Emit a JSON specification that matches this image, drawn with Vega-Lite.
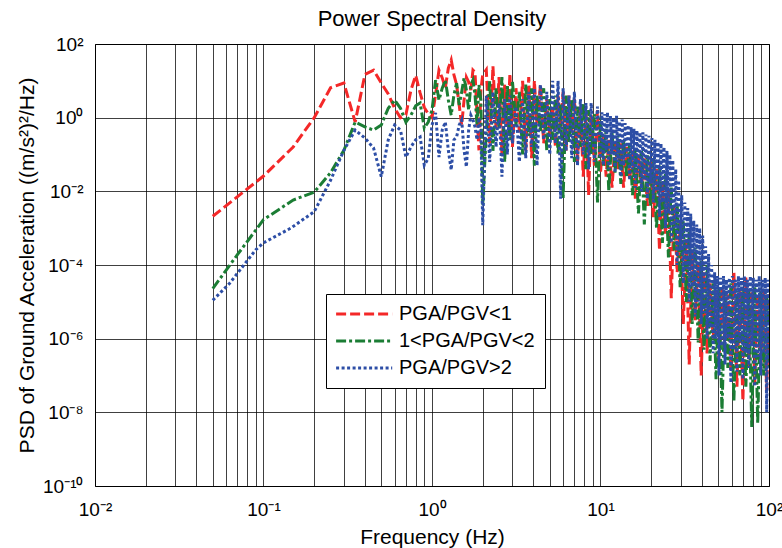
{
"$schema": "https://vega.github.io/schema/vega-lite/v6.json",
"width": 674, "height": 442,
"autosize": {"type": "none"},
"padding": {"left": 95, "top": 44, "right": 13, "bottom": 62},
"background": "white",
"config": {"font": "Liberation Sans", "view": {"stroke": "#000", "strokeWidth": 1}},
"title": {"text": "Power Spectral Density", "frame": "group", "anchor": "middle", "baseline": "alphabetic", "offset": 14, "dy": 27, "fontSize": 22, "fontWeight": "normal", "color": "#000"},
"data": {"values": [
{"s":"PGA/PGV<1","f":0.05,"p":0.0021},{"s":"PGA/PGV<1","f":0.1,"p":0.026},{"s":"PGA/PGV<1","f":0.15,"p":0.16},{"s":"PGA/PGV<1","f":0.2,"p":1.0},{"s":"PGA/PGV<1","f":0.25,"p":6.5},{"s":"PGA/PGV<1","f":0.3,"p":8.7},{"s":"PGA/PGV<1","f":0.35,"p":0.76},{"s":"PGA/PGV<1","f":0.4,"p":15},{"s":"PGA/PGV<1","f":0.45,"p":19.5},{"s":"PGA/PGV<1","f":0.5,"p":8.7},{"s":"PGA/PGV<1","f":0.55,"p":4.4},{"s":"PGA/PGV<1","f":0.6,"p":1.8},{"s":"PGA/PGV<1","f":0.65,"p":1.0},{"s":"PGA/PGV<1","f":0.7,"p":1.2},{"s":"PGA/PGV<1","f":0.75,"p":5.6},{"s":"PGA/PGV<1","f":0.8,"p":14},{"s":"PGA/PGV<1","f":0.85,"p":4.7},{"s":"PGA/PGV<1","f":0.9,"p":1.9},{"s":"PGA/PGV<1","f":0.95,"p":1.26},{"s":"PGA/PGV<1","f":1.0,"p":1.0},
{"s":"PGA/PGV<1","f":1.05,"p":4.2},{"s":"PGA/PGV<1","f":1.1,"p":19.5},{"s":"PGA/PGV<1","f":1.15,"p":12},{"s":"PGA/PGV<1","f":1.2,"p":6.5},{"s":"PGA/PGV<1","f":1.25,"p":22},{"s":"PGA/PGV<1","f":1.3,"p":37},{"s":"PGA/PGV<1","f":1.35,"p":14.5},{"s":"PGA/PGV<1","f":1.4,"p":7.8},{"s":"PGA/PGV<1","f":1.45,"p":2.2},{"s":"PGA/PGV<1","f":1.5,"p":0.63},{"s":"PGA/PGV<1","f":1.55,"p":3},{"s":"PGA/PGV<1","f":1.6,"p":12.5},{"s":"PGA/PGV<1","f":1.65,"p":9.3},{"s":"PGA/PGV<1","f":1.7,"p":5.6},{"s":"PGA/PGV<1","f":1.75,"p":19.5},{"s":"PGA/PGV<1","f":1.8,"p":17},{"s":"PGA/PGV<1","f":1.85,"p":1.2},{"s":"PGA/PGV<1","f":1.9,"p":0.13},{"s":"PGA/PGV<1","f":1.95,"p":5.6},{"s":"PGA/PGV<1","f":2.0,"p":14.5},
{"s":"PGA/PGV<1","f":2.1,"p":20},{"s":"PGA/PGV<1","f":2.2,"p":0.2},{"s":"PGA/PGV<1","f":2.3,"p":25},{"s":"PGA/PGV<1","f":2.4,"p":0.5},{"s":"PGA/PGV<1","f":2.5,"p":12.6},{"s":"PGA/PGV<1","f":2.6,"p":0.1},{"s":"PGA/PGV<1","f":2.7,"p":7.9},{"s":"PGA/PGV<1","f":2.8,"p":0.32},{"s":"PGA/PGV<1","f":2.9,"p":15.8},{"s":"PGA/PGV<1","f":3.0,"p":0.16},{"s":"PGA/PGV<1","f":3.15,"p":6.3},{"s":"PGA/PGV<1","f":3.3,"p":0.4},{"s":"PGA/PGV<1","f":3.45,"p":10},{"s":"PGA/PGV<1","f":3.6,"p":0.126},{"s":"PGA/PGV<1","f":3.75,"p":12.6},{"s":"PGA/PGV<1","f":3.9,"p":0.079},{"s":"PGA/PGV<1","f":4.05,"p":10},{"s":"PGA/PGV<1","f":4.2,"p":0.63},{"s":"PGA/PGV<1","f":4.4,"p":7.9},{"s":"PGA/PGV<1","f":4.6,"p":0.2},{"s":"PGA/PGV<1","f":4.8,"p":3.2},{"s":"PGA/PGV<1","f":5.0,"p":0.32},{"s":"PGA/PGV<1","f":5.2,"p":2},{"s":"PGA/PGV<1","f":5.4,"p":0.16},{"s":"PGA/PGV<1","f":5.6,"p":4},{"s":"PGA/PGV<1","f":5.8,"p":0.5},{"s":"PGA/PGV<1","f":6.0,"p":5},{"s":"PGA/PGV<1","f":6.25,"p":0.126},{"s":"PGA/PGV<1","f":6.5,"p":4},{"s":"PGA/PGV<1","f":6.75,"p":0.4},{"s":"PGA/PGV<1","f":7.0,"p":3.2},{"s":"PGA/PGV<1","f":7.3,"p":0.063},{"s":"PGA/PGV<1","f":7.6,"p":2},{"s":"PGA/PGV<1","f":7.9,"p":0.025},{"s":"PGA/PGV<1","f":8.2,"p":1.6},{"s":"PGA/PGV<1","f":8.5,"p":0.0079},{"s":"PGA/PGV<1","f":8.8,"p":1.26},{"s":"PGA/PGV<1","f":9.2,"p":0.05},{"s":"PGA/PGV<1","f":9.6,"p":1.6},{"s":"PGA/PGV<1","f":10,"p":0.032},
{"s":"PGA/PGV<1","f":10.4,"p":0.32},{"s":"PGA/PGV<1","f":10.8,"p":0.025},{"s":"PGA/PGV<1","f":11.2,"p":0.25},{"s":"PGA/PGV<1","f":11.7,"p":0.0126},{"s":"PGA/PGV<1","f":12.2,"p":0.2},{"s":"PGA/PGV<1","f":12.7,"p":0.04},{"s":"PGA/PGV<1","f":13.2,"p":0.2},{"s":"PGA/PGV<1","f":13.7,"p":0.0126},{"s":"PGA/PGV<1","f":14.3,"p":0.16},{"s":"PGA/PGV<1","f":14.9,"p":0.02},{"s":"PGA/PGV<1","f":15.5,"p":0.13},{"s":"PGA/PGV<1","f":16.1,"p":0.0063},{"s":"PGA/PGV<1","f":16.8,"p":0.1},{"s":"PGA/PGV<1","f":17.5,"p":0.0126},{"s":"PGA/PGV<1","f":18.2,"p":0.079},{"s":"PGA/PGV<1","f":19,"p":0.004},{"s":"PGA/PGV<1","f":19.8,"p":0.063},{"s":"PGA/PGV<1","f":20.6,"p":0.002},{"s":"PGA/PGV<1","f":21.5,"p":0.04},{"s":"PGA/PGV<1","f":22.4,"p":0.00025},{"s":"PGA/PGV<1","f":23.3,"p":0.02},{"s":"PGA/PGV<1","f":24.3,"p":0.00063},{"s":"PGA/PGV<1","f":25.3,"p":0.01},{"s":"PGA/PGV<1","f":26.3,"p":1.26e-5},{"s":"PGA/PGV<1","f":27.4,"p":0.004},{"s":"PGA/PGV<1","f":28.5,"p":6.3e-5},{"s":"PGA/PGV<1","f":29.7,"p":0.0016},{"s":"PGA/PGV<1","f":31,"p":2.5e-6},{"s":"PGA/PGV<1","f":32.3,"p":0.0005},{"s":"PGA/PGV<1","f":33.6,"p":2e-7},{"s":"PGA/PGV<1","f":35,"p":0.00025},{"s":"PGA/PGV<1","f":36.5,"p":3.2e-6},{"s":"PGA/PGV<1","f":38,"p":0.0001},{"s":"PGA/PGV<1","f":39.6,"p":1e-7},{"s":"PGA/PGV<1","f":41.2,"p":6.3e-5},{"s":"PGA/PGV<1","f":42.9,"p":4e-7},{"s":"PGA/PGV<1","f":44.7,"p":3.2e-5},{"s":"PGA/PGV<1","f":46.6,"p":1e-6},{"s":"PGA/PGV<1","f":48.5,"p":2e-5},{"s":"PGA/PGV<1","f":50.5,"p":2.5e-7},{"s":"PGA/PGV<1","f":52.6,"p":2.5e-5},{"s":"PGA/PGV<1","f":54.8,"p":5e-7},{"s":"PGA/PGV<1","f":57,"p":1.6e-5},{"s":"PGA/PGV<1","f":59.4,"p":1.26e-7},{"s":"PGA/PGV<1","f":61.9,"p":6.3e-5},{"s":"PGA/PGV<1","f":64.5,"p":5e-8},{"s":"PGA/PGV<1","f":67.2,"p":2e-5},{"s":"PGA/PGV<1","f":70,"p":2e-8},{"s":"PGA/PGV<1","f":72.9,"p":5e-5},{"s":"PGA/PGV<1","f":75.9,"p":1.6e-7},{"s":"PGA/PGV<1","f":79,"p":2e-5},{"s":"PGA/PGV<1","f":82.3,"p":6.3e-8},{"s":"PGA/PGV<1","f":85.7,"p":1.6e-5},{"s":"PGA/PGV<1","f":89.3,"p":1.26e-7},{"s":"PGA/PGV<1","f":93,"p":2e-5},{"s":"PGA/PGV<1","f":96.9,"p":4e-8},{"s":"PGA/PGV<1","f":100,"p":1.6e-5},

{"s":"1<PGA/PGV<2","f":0.05,"p":2.3e-5},{"s":"1<PGA/PGV<2","f":0.07,"p":0.00019},{"s":"1<PGA/PGV<2","f":0.09,"p":0.00089},{"s":"1<PGA/PGV<2","f":0.1,"p":0.0017},{"s":"1<PGA/PGV<2","f":0.15,"p":0.0058},{"s":"1<PGA/PGV<2","f":0.2,"p":0.0095},{"s":"1<PGA/PGV<2","f":0.25,"p":0.032},{"s":"1<PGA/PGV<2","f":0.3,"p":0.13},{"s":"1<PGA/PGV<2","f":0.35,"p":0.76},{"s":"1<PGA/PGV<2","f":0.4,"p":0.56},{"s":"1<PGA/PGV<2","f":0.45,"p":0.46},{"s":"1<PGA/PGV<2","f":0.5,"p":0.63},{"s":"1<PGA/PGV<2","f":0.55,"p":1.8},{"s":"1<PGA/PGV<2","f":0.6,"p":3.0},{"s":"1<PGA/PGV<2","f":0.65,"p":1.8},{"s":"1<PGA/PGV<2","f":0.7,"p":0.76},{"s":"1<PGA/PGV<2","f":0.75,"p":1.17},{"s":"1<PGA/PGV<2","f":0.8,"p":2.1},{"s":"1<PGA/PGV<2","f":0.85,"p":2.5},{"s":"1<PGA/PGV<2","f":0.9,"p":0.52},{"s":"1<PGA/PGV<2","f":0.95,"p":0.76},{"s":"1<PGA/PGV<2","f":1.0,"p":1.6},
{"s":"1<PGA/PGV<2","f":1.05,"p":10.5},{"s":"1<PGA/PGV<2","f":1.1,"p":3.0},{"s":"1<PGA/PGV<2","f":1.15,"p":6.3},{"s":"1<PGA/PGV<2","f":1.2,"p":10.5},{"s":"1<PGA/PGV<2","f":1.25,"p":3.0},{"s":"1<PGA/PGV<2","f":1.3,"p":1.17},{"s":"1<PGA/PGV<2","f":1.35,"p":4.2},{"s":"1<PGA/PGV<2","f":1.4,"p":8.7},{"s":"1<PGA/PGV<2","f":1.45,"p":2.2},{"s":"1<PGA/PGV<2","f":1.5,"p":5.0},{"s":"1<PGA/PGV<2","f":1.55,"p":12},{"s":"1<PGA/PGV<2","f":1.6,"p":5.6},{"s":"1<PGA/PGV<2","f":1.65,"p":1.6},{"s":"1<PGA/PGV<2","f":1.7,"p":7.8},{"s":"1<PGA/PGV<2","f":1.75,"p":10.5},{"s":"1<PGA/PGV<2","f":1.8,"p":4.2},{"s":"1<PGA/PGV<2","f":1.85,"p":0.63},{"s":"1<PGA/PGV<2","f":1.9,"p":7.8},{"s":"1<PGA/PGV<2","f":1.95,"p":3.0},{"s":"1<PGA/PGV<2","f":2.0,"p":0.0043},
{"s":"1<PGA/PGV<2","f":2.1,"p":0.4},{"s":"1<PGA/PGV<2","f":2.2,"p":10},{"s":"1<PGA/PGV<2","f":2.3,"p":0.126},{"s":"1<PGA/PGV<2","f":2.4,"p":6.3},{"s":"1<PGA/PGV<2","f":2.5,"p":0.5},{"s":"1<PGA/PGV<2","f":2.6,"p":12.6},{"s":"1<PGA/PGV<2","f":2.7,"p":0.063},{"s":"1<PGA/PGV<2","f":2.8,"p":7.9},{"s":"1<PGA/PGV<2","f":2.9,"p":0.25},{"s":"1<PGA/PGV<2","f":3.0,"p":10},{"s":"1<PGA/PGV<2","f":3.15,"p":0.63},{"s":"1<PGA/PGV<2","f":3.3,"p":5},{"s":"1<PGA/PGV<2","f":3.45,"p":0.1},{"s":"1<PGA/PGV<2","f":3.6,"p":7.9},{"s":"1<PGA/PGV<2","f":3.75,"p":0.32},{"s":"1<PGA/PGV<2","f":3.9,"p":6.3},{"s":"1<PGA/PGV<2","f":4.05,"p":0.05},{"s":"1<PGA/PGV<2","f":4.2,"p":4},{"s":"1<PGA/PGV<2","f":4.4,"p":0.4},{"s":"1<PGA/PGV<2","f":4.6,"p":6.3},{"s":"1<PGA/PGV<2","f":4.8,"p":0.126},{"s":"1<PGA/PGV<2","f":5.0,"p":3.2},{"s":"1<PGA/PGV<2","f":5.2,"p":0.25},{"s":"1<PGA/PGV<2","f":5.4,"p":4},{"s":"1<PGA/PGV<2","f":5.6,"p":0.1},{"s":"1<PGA/PGV<2","f":5.8,"p":2.5},{"s":"1<PGA/PGV<2","f":6.0,"p":0.0063},{"s":"1<PGA/PGV<2","f":6.25,"p":4},{"s":"1<PGA/PGV<2","f":6.5,"p":0.2},{"s":"1<PGA/PGV<2","f":6.75,"p":3.2},{"s":"1<PGA/PGV<2","f":7.0,"p":0.063},{"s":"1<PGA/PGV<2","f":7.3,"p":2},{"s":"1<PGA/PGV<2","f":7.6,"p":0.16},{"s":"1<PGA/PGV<2","f":7.9,"p":2.5},{"s":"1<PGA/PGV<2","f":8.2,"p":0.04},{"s":"1<PGA/PGV<2","f":8.5,"p":1.6},{"s":"1<PGA/PGV<2","f":8.8,"p":0.1},{"s":"1<PGA/PGV<2","f":9.2,"p":1.26},{"s":"1<PGA/PGV<2","f":9.6,"p":0.005},{"s":"1<PGA/PGV<2","f":10,"p":1},
{"s":"1<PGA/PGV<2","f":10.4,"p":0.05},{"s":"1<PGA/PGV<2","f":10.8,"p":0.5},{"s":"1<PGA/PGV<2","f":11.2,"p":0.01},{"s":"1<PGA/PGV<2","f":11.7,"p":0.4},{"s":"1<PGA/PGV<2","f":12.2,"p":0.032},{"s":"1<PGA/PGV<2","f":12.7,"p":0.32},{"s":"1<PGA/PGV<2","f":13.2,"p":0.016},{"s":"1<PGA/PGV<2","f":13.7,"p":0.25},{"s":"1<PGA/PGV<2","f":14.3,"p":0.025},{"s":"1<PGA/PGV<2","f":14.9,"p":0.2},{"s":"1<PGA/PGV<2","f":15.5,"p":0.0079},{"s":"1<PGA/PGV<2","f":16.1,"p":0.16},{"s":"1<PGA/PGV<2","f":16.8,"p":0.0025},{"s":"1<PGA/PGV<2","f":17.5,"p":0.126},{"s":"1<PGA/PGV<2","f":18.2,"p":0.00126},{"s":"1<PGA/PGV<2","f":19,"p":0.1},{"s":"1<PGA/PGV<2","f":19.8,"p":0.004},{"s":"1<PGA/PGV<2","f":20.6,"p":0.079},{"s":"1<PGA/PGV<2","f":21.5,"p":0.001},{"s":"1<PGA/PGV<2","f":22.4,"p":0.05},{"s":"1<PGA/PGV<2","f":23.3,"p":0.0004},{"s":"1<PGA/PGV<2","f":24.3,"p":0.032},{"s":"1<PGA/PGV<2","f":25.3,"p":0.00016},{"s":"1<PGA/PGV<2","f":26.3,"p":0.0126},{"s":"1<PGA/PGV<2","f":27.4,"p":0.00025},{"s":"1<PGA/PGV<2","f":28.5,"p":0.005},{"s":"1<PGA/PGV<2","f":29.7,"p":2.5e-5},{"s":"1<PGA/PGV<2","f":31,"p":0.0016},{"s":"1<PGA/PGV<2","f":32.3,"p":1e-5},{"s":"1<PGA/PGV<2","f":33.6,"p":0.0008},{"s":"1<PGA/PGV<2","f":35,"p":2.5e-6},{"s":"1<PGA/PGV<2","f":36.5,"p":0.0003},{"s":"1<PGA/PGV<2","f":38,"p":7.9e-7},{"s":"1<PGA/PGV<2","f":39.6,"p":0.00013},{"s":"1<PGA/PGV<2","f":41.2,"p":5e-7},{"s":"1<PGA/PGV<2","f":42.9,"p":0.0001},{"s":"1<PGA/PGV<2","f":44.7,"p":2.5e-7},{"s":"1<PGA/PGV<2","f":46.6,"p":3.2e-5},{"s":"1<PGA/PGV<2","f":48.5,"p":7.9e-8},{"s":"1<PGA/PGV<2","f":50.5,"p":2.5e-5},{"s":"1<PGA/PGV<2","f":52.6,"p":1e-8},{"s":"1<PGA/PGV<2","f":54.8,"p":2e-5},{"s":"1<PGA/PGV<2","f":57,"p":1.6e-7},{"s":"1<PGA/PGV<2","f":59.4,"p":3.2e-5},{"s":"1<PGA/PGV<2","f":61.9,"p":2e-8},{"s":"1<PGA/PGV<2","f":64.5,"p":2e-5},{"s":"1<PGA/PGV<2","f":67.2,"p":1e-7},{"s":"1<PGA/PGV<2","f":70,"p":2.5e-5},{"s":"1<PGA/PGV<2","f":72.9,"p":5e-8},{"s":"1<PGA/PGV<2","f":75.9,"p":2e-5},{"s":"1<PGA/PGV<2","f":79,"p":4e-9},{"s":"1<PGA/PGV<2","f":82.3,"p":2.5e-5},{"s":"1<PGA/PGV<2","f":85.7,"p":5e-9},{"s":"1<PGA/PGV<2","f":89.3,"p":2e-5},{"s":"1<PGA/PGV<2","f":93,"p":1e-7},{"s":"1<PGA/PGV<2","f":96.9,"p":2e-5},{"s":"1<PGA/PGV<2","f":100,"p":1.6e-7},

{"s":"PGA/PGV>2","f":0.05,"p":1.1e-5},{"s":"PGA/PGV>2","f":0.063,"p":3.2e-5},{"s":"PGA/PGV>2","f":0.09,"p":0.00026},{"s":"PGA/PGV>2","f":0.1,"p":0.0004},{"s":"PGA/PGV>2","f":0.145,"p":0.001},{"s":"PGA/PGV>2","f":0.2,"p":0.0028},{"s":"PGA/PGV>2","f":0.25,"p":0.02},{"s":"PGA/PGV>2","f":0.3,"p":0.13},{"s":"PGA/PGV>2","f":0.35,"p":0.46},{"s":"PGA/PGV>2","f":0.4,"p":0.28},{"s":"PGA/PGV>2","f":0.45,"p":0.15},{"s":"PGA/PGV>2","f":0.5,"p":0.025},{"s":"PGA/PGV>2","f":0.55,"p":0.25},{"s":"PGA/PGV>2","f":0.6,"p":0.63},{"s":"PGA/PGV>2","f":0.65,"p":0.46},{"s":"PGA/PGV>2","f":0.7,"p":0.085},{"s":"PGA/PGV>2","f":0.75,"p":0.16},{"s":"PGA/PGV>2","f":0.8,"p":0.25},{"s":"PGA/PGV>2","f":0.85,"p":0.3},{"s":"PGA/PGV>2","f":0.9,"p":0.051},{"s":"PGA/PGV>2","f":0.95,"p":0.079},{"s":"PGA/PGV>2","f":1.0,"p":0.63},
{"s":"PGA/PGV>2","f":1.05,"p":1.35},{"s":"PGA/PGV>2","f":1.1,"p":0.085},{"s":"PGA/PGV>2","f":1.15,"p":0.46},{"s":"PGA/PGV>2","f":1.2,"p":0.76},{"s":"PGA/PGV>2","f":1.25,"p":0.13},{"s":"PGA/PGV>2","f":1.3,"p":0.038},{"s":"PGA/PGV>2","f":1.35,"p":0.25},{"s":"PGA/PGV>2","f":1.4,"p":0.3},{"s":"PGA/PGV>2","f":1.45,"p":0.63},{"s":"PGA/PGV>2","f":1.5,"p":0.87},{"s":"PGA/PGV>2","f":1.55,"p":0.13},{"s":"PGA/PGV>2","f":1.6,"p":0.046},{"s":"PGA/PGV>2","f":1.65,"p":0.46},{"s":"PGA/PGV>2","f":1.7,"p":1.17},{"s":"PGA/PGV>2","f":1.75,"p":0.87},{"s":"PGA/PGV>2","f":1.8,"p":0.56},{"s":"PGA/PGV>2","f":1.85,"p":0.25},{"s":"PGA/PGV>2","f":1.9,"p":1.0},{"s":"PGA/PGV>2","f":1.95,"p":0.46},{"s":"PGA/PGV>2","f":2.0,"p":0.0012},
{"s":"PGA/PGV>2","f":2.1,"p":4},{"s":"PGA/PGV>2","f":2.2,"p":0.063},{"s":"PGA/PGV>2","f":2.3,"p":5},{"s":"PGA/PGV>2","f":2.4,"p":0.16},{"s":"PGA/PGV>2","f":2.5,"p":2.5},{"s":"PGA/PGV>2","f":2.6,"p":0.025},{"s":"PGA/PGV>2","f":2.7,"p":3.2},{"s":"PGA/PGV>2","f":2.8,"p":0.1},{"s":"PGA/PGV>2","f":2.9,"p":4},{"s":"PGA/PGV>2","f":3.0,"p":0.2},{"s":"PGA/PGV>2","f":3.15,"p":2},{"s":"PGA/PGV>2","f":3.3,"p":0.063},{"s":"PGA/PGV>2","f":3.45,"p":3.2},{"s":"PGA/PGV>2","f":3.6,"p":0.079},{"s":"PGA/PGV>2","f":3.75,"p":5},{"s":"PGA/PGV>2","f":3.9,"p":0.16},{"s":"PGA/PGV>2","f":4.05,"p":6.3},{"s":"PGA/PGV>2","f":4.2,"p":0.05},{"s":"PGA/PGV>2","f":4.4,"p":7.9},{"s":"PGA/PGV>2","f":4.6,"p":0.25},{"s":"PGA/PGV>2","f":4.8,"p":5},{"s":"PGA/PGV>2","f":5.0,"p":0.1},{"s":"PGA/PGV>2","f":5.2,"p":10},{"s":"PGA/PGV>2","f":5.4,"p":0.2},{"s":"PGA/PGV>2","f":5.6,"p":10},{"s":"PGA/PGV>2","f":5.8,"p":0.0063},{"s":"PGA/PGV>2","f":6.0,"p":6.3},{"s":"PGA/PGV>2","f":6.25,"p":0.126},{"s":"PGA/PGV>2","f":6.5,"p":4},{"s":"PGA/PGV>2","f":6.75,"p":0.079},{"s":"PGA/PGV>2","f":7.0,"p":5},{"s":"PGA/PGV>2","f":7.3,"p":0.05},{"s":"PGA/PGV>2","f":7.6,"p":3.2},{"s":"PGA/PGV>2","f":7.9,"p":0.1},{"s":"PGA/PGV>2","f":8.2,"p":2.5},{"s":"PGA/PGV>2","f":8.5,"p":0.04},{"s":"PGA/PGV>2","f":8.8,"p":2.5},{"s":"PGA/PGV>2","f":9.2,"p":0.063},{"s":"PGA/PGV>2","f":9.6,"p":2},
{"s":"PGA/PGV>2","f":10,"p":0.079},{"s":"PGA/PGV>2","f":10.2,"p":1.4},{"s":"PGA/PGV>2","f":10.4,"p":0.05},{"s":"PGA/PGV>2","f":10.6,"p":1.26},{"s":"PGA/PGV>2","f":10.8,"p":0.126},{"s":"PGA/PGV>2","f":11,"p":1.4},{"s":"PGA/PGV>2","f":11.2,"p":0.04},{"s":"PGA/PGV>2","f":11.45,"p":1.12},{"s":"PGA/PGV>2","f":11.7,"p":0.1},{"s":"PGA/PGV>2","f":11.95,"p":1},{"s":"PGA/PGV>2","f":12.2,"p":0.032},{"s":"PGA/PGV>2","f":12.45,"p":1.12},{"s":"PGA/PGV>2","f":12.7,"p":0.063},{"s":"PGA/PGV>2","f":12.95,"p":0.79},{"s":"PGA/PGV>2","f":13.2,"p":0.025},{"s":"PGA/PGV>2","f":13.45,"p":0.89},{"s":"PGA/PGV>2","f":13.7,"p":0.05},{"s":"PGA/PGV>2","f":14,"p":0.71},{"s":"PGA/PGV>2","f":14.3,"p":0.079},{"s":"PGA/PGV>2","f":14.6,"p":0.63},{"s":"PGA/PGV>2","f":14.9,"p":0.02},{"s":"PGA/PGV>2","f":15.2,"p":0.56},{"s":"PGA/PGV>2","f":15.5,"p":0.04},{"s":"PGA/PGV>2","f":15.8,"p":0.5},{"s":"PGA/PGV>2","f":16.1,"p":0.0126},{"s":"PGA/PGV>2","f":16.45,"p":0.45},{"s":"PGA/PGV>2","f":16.8,"p":0.032},{"s":"PGA/PGV>2","f":17.15,"p":0.4},{"s":"PGA/PGV>2","f":17.5,"p":0.01},{"s":"PGA/PGV>2","f":17.85,"p":0.4},{"s":"PGA/PGV>2","f":18.2,"p":0.02},{"s":"PGA/PGV>2","f":18.6,"p":0.35},{"s":"PGA/PGV>2","f":19,"p":0.0063},{"s":"PGA/PGV>2","f":19.4,"p":0.32},{"s":"PGA/PGV>2","f":19.8,"p":0.016},{"s":"PGA/PGV>2","f":20.2,"p":0.28},{"s":"PGA/PGV>2","f":20.6,"p":0.005},{"s":"PGA/PGV>2","f":21.05,"p":0.25},{"s":"PGA/PGV>2","f":21.5,"p":0.01},{"s":"PGA/PGV>2","f":21.95,"p":0.22},{"s":"PGA/PGV>2","f":22.4,"p":0.002},{"s":"PGA/PGV>2","f":22.85,"p":0.2},{"s":"PGA/PGV>2","f":23.3,"p":0.005},{"s":"PGA/PGV>2","f":23.8,"p":0.16},{"s":"PGA/PGV>2","f":24.3,"p":0.001},{"s":"PGA/PGV>2","f":24.8,"p":0.126},{"s":"PGA/PGV>2","f":25.3,"p":0.0025},{"s":"PGA/PGV>2","f":25.8,"p":0.1},{"s":"PGA/PGV>2","f":26.3,"p":0.0004},{"s":"PGA/PGV>2","f":26.85,"p":0.071},{"s":"PGA/PGV>2","f":27.4,"p":0.001},{"s":"PGA/PGV>2","f":27.95,"p":0.04},{"s":"PGA/PGV>2","f":28.5,"p":0.0001},{"s":"PGA/PGV>2","f":29.1,"p":0.02},{"s":"PGA/PGV>2","f":29.7,"p":0.00025},{"s":"PGA/PGV>2","f":30.35,"p":0.0079},{"s":"PGA/PGV>2","f":31,"p":3.2e-5},{"s":"PGA/PGV>2","f":31.65,"p":0.005},{"s":"PGA/PGV>2","f":32.3,"p":7.9e-5},{"s":"PGA/PGV>2","f":32.95,"p":0.0035},{"s":"PGA/PGV>2","f":33.6,"p":1e-5},{"s":"PGA/PGV>2","f":34.3,"p":0.0025},{"s":"PGA/PGV>2","f":35,"p":2.5e-5},{"s":"PGA/PGV>2","f":35.75,"p":0.0016},{"s":"PGA/PGV>2","f":36.5,"p":4e-6},{"s":"PGA/PGV>2","f":37.25,"p":0.00126},{"s":"PGA/PGV>2","f":38,"p":1e-5},{"s":"PGA/PGV>2","f":38.8,"p":0.001},{"s":"PGA/PGV>2","f":39.6,"p":2.5e-6},{"s":"PGA/PGV>2","f":40.4,"p":0.00063},{"s":"PGA/PGV>2","f":41.2,"p":5e-6},{"s":"PGA/PGV>2","f":42.05,"p":0.00032},{"s":"PGA/PGV>2","f":42.9,"p":1e-6},{"s":"PGA/PGV>2","f":43.8,"p":0.0002},{"s":"PGA/PGV>2","f":44.7,"p":2e-6},{"s":"PGA/PGV>2","f":45.65,"p":0.0001},{"s":"PGA/PGV>2","f":46.6,"p":4e-7},{"s":"PGA/PGV>2","f":47.55,"p":6.3e-5},{"s":"PGA/PGV>2","f":48.5,"p":1e-6},{"s":"PGA/PGV>2","f":49.5,"p":5e-5},{"s":"PGA/PGV>2","f":50.5,"p":1e-7},{"s":"PGA/PGV>2","f":51.55,"p":4.5e-5},{"s":"PGA/PGV>2","f":52.6,"p":6.3e-7},{"s":"PGA/PGV>2","f":53.7,"p":5e-5},{"s":"PGA/PGV>2","f":54.8,"p":2e-7},{"s":"PGA/PGV>2","f":55.9,"p":4e-5},{"s":"PGA/PGV>2","f":57,"p":1e-6},{"s":"PGA/PGV>2","f":58.2,"p":4.5e-5},{"s":"PGA/PGV>2","f":59.4,"p":6.3e-8},{"s":"PGA/PGV>2","f":60.65,"p":5e-5},{"s":"PGA/PGV>2","f":61.9,"p":5e-7},{"s":"PGA/PGV>2","f":63.2,"p":4e-5},{"s":"PGA/PGV>2","f":64.5,"p":1.26e-7},{"s":"PGA/PGV>2","f":65.85,"p":5e-5},{"s":"PGA/PGV>2","f":67.2,"p":7.9e-7},{"s":"PGA/PGV>2","f":68.6,"p":4.5e-5},{"s":"PGA/PGV>2","f":70,"p":7.9e-8},{"s":"PGA/PGV>2","f":71.45,"p":5e-5},{"s":"PGA/PGV>2","f":72.9,"p":4e-7},{"s":"PGA/PGV>2","f":74.4,"p":4e-5},{"s":"PGA/PGV>2","f":75.9,"p":1.6e-7},{"s":"PGA/PGV>2","f":77.45,"p":5e-5},{"s":"PGA/PGV>2","f":79,"p":6.3e-7},{"s":"PGA/PGV>2","f":80.65,"p":4.5e-5},{"s":"PGA/PGV>2","f":82.3,"p":5e-8},{"s":"PGA/PGV>2","f":84,"p":4e-5},{"s":"PGA/PGV>2","f":85.7,"p":3.2e-7},{"s":"PGA/PGV>2","f":87.5,"p":5e-5},{"s":"PGA/PGV>2","f":89.3,"p":1e-7},{"s":"PGA/PGV>2","f":91.15,"p":4e-5},{"s":"PGA/PGV>2","f":93,"p":4e-7},{"s":"PGA/PGV>2","f":94.95,"p":4.5e-5},{"s":"PGA/PGV>2","f":96.9,"p":1e-8},{"s":"PGA/PGV>2","f":98.5,"p":4e-5},{"s":"PGA/PGV>2","f":100,"p":2.5e-7}
]},
"encoding": {
  "x": {"field": "f", "type": "quantitative",
    "scale": {"type": "log", "domain": [0.01, 100], "nice": false},
    "axis": {"values": [0.01,0.02,0.03,0.04,0.05,0.06,0.07,0.08,0.09,0.1,0.2,0.3,0.4,0.5,0.6,0.7,0.8,0.9,1,2,3,4,5,6,7,8,9,10,20,30,40,50,60,70,80,90,100],
      "labelExpr": "datum.value == 0.01 ? '10⁻²' : datum.value == 0.1 ? '10⁻¹' : datum.value == 1 ? '10⁰' : datum.value == 10 ? '10¹' : datum.value == 100 ? '10²' : ''",
      "grid": true, "gridColor": "#000", "gridOpacity": 0.75, "gridWidth": 1,
      "ticks": false, "domain": false, "labelOverlap": false, "labelFlush": false,
      "labelFontSize": 19, "labelColor": "#000", "labelBaseline": "alphabetic", "labelPadding": 29,
      "title": "Frequency (Hz)", "titleFontSize": 21, "titleFontWeight": "normal", "titleColor": "#000",
      "titleBaseline": "alphabetic", "titleY": 57}},
  "y": {"field": "p", "type": "quantitative",
    "scale": {"type": "log", "domain": [1e-10, 100], "nice": false},
    "axis": {"values": [1e-10,1e-8,1e-6,1e-4,1e-2,1,100],
      "labelExpr": "datum.value < 1e-9 ? '10⁻¹⁰' : datum.value < 1e-7 ? '10⁻⁸' : datum.value < 1e-5 ? '10⁻⁶' : datum.value < 1e-3 ? '10⁻⁴' : datum.value < 0.1 ? '10⁻²' : datum.value < 10 ? '10⁰' : '10²'",
      "grid": true, "gridColor": "#000", "gridOpacity": 0.75, "gridWidth": 1,
      "ticks": false, "domain": false, "labelOverlap": false, "labelFlush": false,
      "labelFontSize": 19, "labelColor": "#000", "labelPadding": 12,
      "title": "PSD of Ground Acceleration ((m/s²)²/Hz)", "titleFontSize": 21, "titleFontWeight": "normal", "titleColor": "#000",
      "titleBaseline": "alphabetic", "titleX": -62}},
  "color": {"field": "s", "type": "nominal",
    "scale": {"domain": ["PGA/PGV<1", "1<PGA/PGV<2", "PGA/PGV>2"], "range": ["#f42828", "#1b7d34", "#2d4ea6"]},
    "legend": {"orient": "none", "legendX": 231, "legendY": 250, "title": null, "labelFontSize": 20, "labelColor": "#000", "labelLimit": 0,
      "symbolType": "M-1.8,0H8.4", "symbolSize": 121, "symbolStrokeWidth": 3, "labelOffset": 43, "rowPadding": 7,
      "padding": 10, "strokeColor": "#000", "fillColor": "#fff"}},
  "strokeDash": {"field": "s", "type": "nominal",
    "scale": {"domain": ["PGA/PGV<1", "1<PGA/PGV<2", "PGA/PGV>2"], "range": [[10, 4], [10, 3, 3, 3], [3, 2.5]]},
    "legend": {"orient": "none", "legendX": 231, "legendY": 250, "title": null, "labelFontSize": 20, "labelColor": "#000", "labelLimit": 0,
      "symbolType": "M-1.8,0H8.4", "symbolSize": 121, "symbolStrokeWidth": 3, "labelOffset": 43, "rowPadding": 7,
      "padding": 10, "strokeColor": "#000", "fillColor": "#fff"}}
},
"layer": [
  {"transform": [{"filter": "datum.s === 'PGA/PGV<1'"}], "mark": {"type": "line", "strokeWidth": 3, "clip": true}},
  {"transform": [{"filter": "datum.s === '1<PGA/PGV<2'"}], "mark": {"type": "line", "strokeWidth": 3, "clip": true}},
  {"transform": [{"filter": "datum.s === 'PGA/PGV>2'"}], "mark": {"type": "line", "strokeWidth": 3, "clip": true}}
]
}
